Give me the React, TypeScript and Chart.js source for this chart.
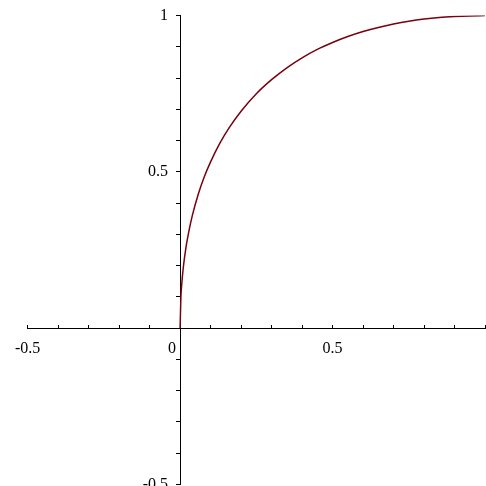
import React, { useEffect, useRef } from "react";
import { Chart, registerables } from "chart.js";

Chart.register(...registerables);

// Curve samples
const xValues = [0, 0.0025, 0.005, 0.01, 0.02, 0.03, 0.04, 0.06, 0.08, 0.1, 0.13, 0.16, 0.2, 0.25, 0.3, 0.35, 0.4, 0.45, 0.5, 0.55, 0.6, 0.65, 0.7, 0.75, 0.8, 0.85, 0.9, 0.95, 1.0];
const yValues = [0, 0.0975, 0.136, 0.19, 0.263, 0.316, 0.36, 0.43, 0.486, 0.532, 0.591, 0.64, 0.694, 0.75, 0.795, 0.833, 0.865, 0.892, 0.914, 0.933, 0.949, 0.962, 0.973, 0.982, 0.989, 0.994, 0.997, 0.999, 1.0];

const xTickLabels: [number, string][] = [[-0.5, "-0.5"], [0, "0"], [0.5, "0.5"]];
const yTickLabels: [number, string][] = [[-0.5, "-0.5"], [0.5, "0.5"], [1, "1"]];

const labelFor = (list: [number, string][], v: number) => {
  for (const [val, txt] of list) if (Math.abs(val - v) < 1e-6) return txt;
  return "";
};

export default function App() {
  const ref = useRef<HTMLCanvasElement | null>(null);

  useEffect(() => {
    if (!ref.current) return;
    const font = { family: "Liberation Serif", size: 16 };
    const chart = new Chart(ref.current, {
      type: "scatter",
      data: {
        datasets: [
          {
            data: xValues.map((x, i) => ({ x, y: yValues[i] })),
            showLine: true,
            borderColor: "rgb(120, 0, 15)",
            borderWidth: 1.5,
            pointRadius: 0,
            cubicInterpolationMode: "monotone",
          },
        ],
      },
      options: {
        animation: false,
        responsive: false,
        devicePixelRatio: 1,
        layout: { padding: { left: 24, top: 15, right: 11, bottom: 15.5 } },
        plugins: { legend: { display: false }, tooltip: { enabled: false } },
        scales: {
          x: {
            type: "linear",
            min: -0.5,
            max: 1,
            position: { y: 0 },
            border: { display: true, color: "#000", width: 1 },
            grid: { drawOnChartArea: false, drawTicks: true, tickLength: -4, color: "#000", tickColor: "#000" },
            ticks: {
              stepSize: 0.1,
              autoSkip: false,
              maxRotation: 0,
              padding: 15,
              color: "#000",
              font,
              callback: (v: any) => {
                const t = labelFor(xTickLabels, Number(v));
                return t === "0" ? "0    " : t;
              },
            },
          },
          y: {
            type: "linear",
            min: -0.5,
            max: 1,
            position: { x: 0 },
            border: { display: true, color: "#000", width: 1 },
            grid: { drawOnChartArea: false, drawTicks: true, tickLength: 4, color: "#000", tickColor: "#000" },
            ticks: {
              stepSize: 0.1,
              autoSkip: false,
              padding: 6,
              color: "#000",
              font,
              callback: (v: any) => {
                const t = labelFor(yTickLabels, Number(v));
                return t ? t + "   " : "";
              },
            },
          },
        },
      },
    } as any);
    return () => chart.destroy();
  }, []);

  return (
    <div style={{ position: "absolute", left: 0, top: 0, width: 486, height: 486, overflow: "hidden", background: "#fff" }}>
      <canvas ref={ref} width={500} height={500} style={{ width: 500, height: 500, display: "block" }} />
    </div>
  );
}
